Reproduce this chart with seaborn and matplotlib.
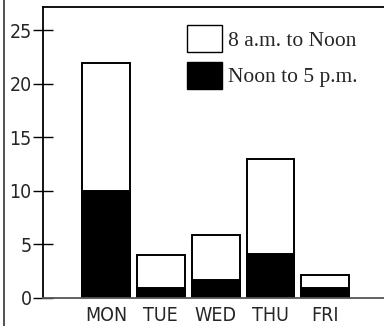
import matplotlib
matplotlib.use("Agg")
import matplotlib.pyplot as plt
import seaborn as sns
import pandas as pd
from matplotlib.patches import Patch
from matplotlib.lines import Line2D

days = ["MON", "TUE", "WED", "THU", "FRI"]
noon_to_5pm = [10, 0.9, 1.6, 4.1, 0.85]
am8_to_noon = [12, 3.1, 4.25, 8.9, 1.25]
yticks = [0, 5, 10, 15, 20, 25]
legend_labels = ["8 a.m. to Noon", "Noon to 5 p.m."]

total = [a + b for a, b in zip(noon_to_5pm, am8_to_noon)]
df = pd.DataFrame({"day": days, "total": total, "pm": noon_to_5pm})

sns.set_theme(style="white")
plt.rcParams["font.family"] = ["DejaVu Sans"]
plt.rcParams["font.stretch"] = "condensed"

W, H = 384, 326
fig = plt.figure(figsize=(W / 100, H / 100), dpi=100)
ax = fig.add_axes([43 / W, 1 - 297.5 / H, (W - 43) / W, (297.5 - 7) / H])

sns.barplot(data=df, x="day", y="total", color="white", edgecolor="black",
            linewidth=1.4, width=0.87, ax=ax, saturation=1)
sns.barplot(data=df, x="day", y="pm", color="black", edgecolor="black",
            linewidth=1.4, width=0.87, ax=ax, saturation=1)

ax.set_xlim(-1.15, 5.07)
ax.set_ylim(0, 27.2)
ax.set_yticks(yticks)
ax.set_yticklabels([str(t) for t in yticks])
ax.set_xlabel("")
ax.set_ylabel("")

for s in ["left", "top"]:
    ax.spines[s].set_color("black")
    ax.spines[s].set_linewidth(1.3)
ax.spines["right"].set_visible(False)
ax.spines["bottom"].set_color("#555555")
ax.spines["bottom"].set_linewidth(1.3)

ax.tick_params(axis="y", direction="inout", length=14.5, width=1.0, color="black",
               labelsize=14, pad=1, left=True)
ax.tick_params(axis="x", length=0, labelsize=14, pad=6)

handles = [Patch(facecolor="white", edgecolor="black", linewidth=1.0),
           Patch(facecolor="black", edgecolor="black", linewidth=1.0)]
leg = ax.legend(handles, legend_labels, loc="upper left",
                bbox_to_anchor=(187 / W, 1 - 25 / H), bbox_transform=fig.transFigure,
                frameon=False, borderpad=0, borderaxespad=0,
                handlelength=1.62, handleheight=1.55, labelspacing=0.46,
                handletextpad=0.28,
                prop={"family": "Liberation Serif", "size": 15.5, "stretch": "normal"})

# left frame line of the original scan
fig.add_artist(Line2D([3.5 / W, 3.5 / W], [0, 1], color="#333333", linewidth=1.2,
                      transform=fig.transFigure))

fig.savefig("out.png", dpi=100)
